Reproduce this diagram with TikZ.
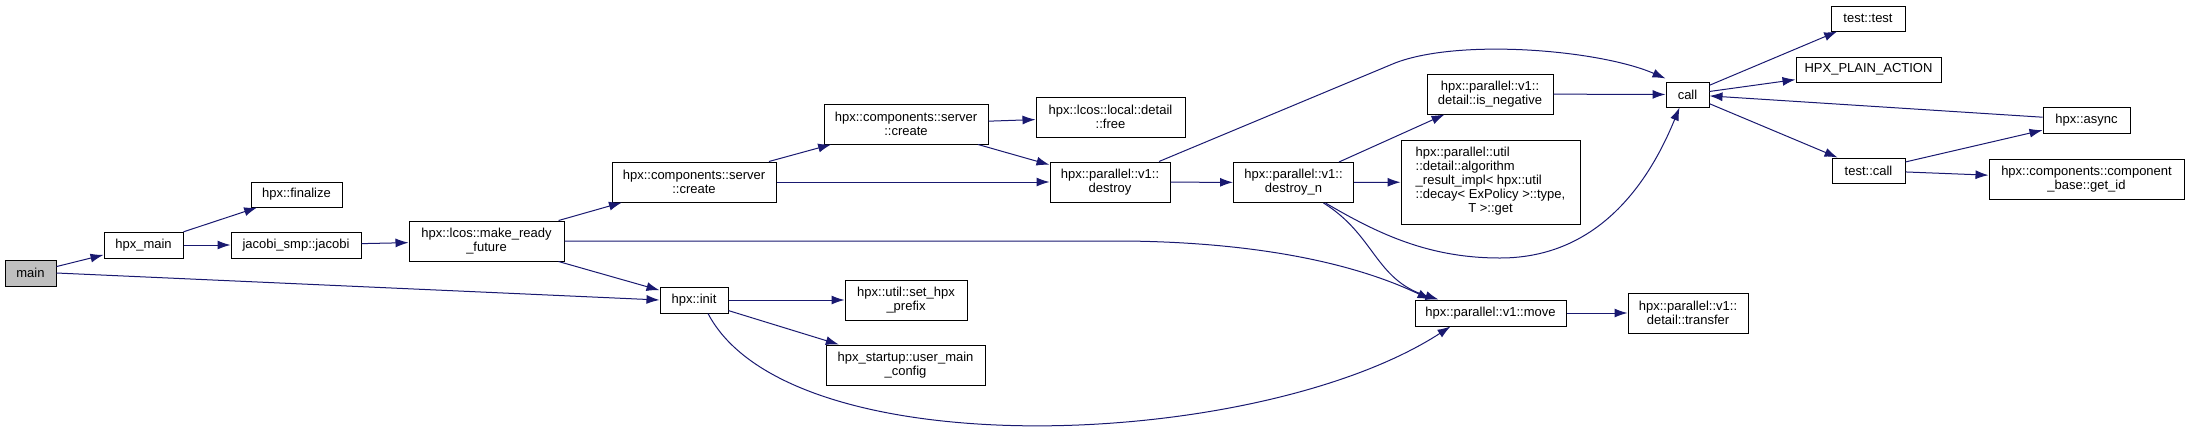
\documentclass[tikz,border=0pt]{standalone}
\usepackage{fontspec}
\setmainfont{Liberation Sans}
\usetikzlibrary{arrows.meta}
\definecolor{edgeblue}{HTML}{191970}
\definecolor{maingray}{HTML}{BFBFBF}
\tikzset{box/.style = {draw=black, fill=white, line width=1pt, inner sep=0pt, align=center,
    font=\fontsize{13}{14}\selectfont},
  edge/.style = {draw=edgeblue, line width=1pt, -{Latex[length=13pt,width=9pt]}}}

\begin{document}
\begin{tikzpicture}[x=1pt, y=-1pt]
  \useasboundingbox (0,0) rectangle (2189,432);
  \node[box, fill=maingray, minimum width=51, minimum height=26] (main) at (30.5,273) {main};
  \node[box, minimum width=79, minimum height=26] (hpxmain) at (143.5,245) {hpx\_main};
  \node[box, minimum width=91, minimum height=25] (finalize) at (296.5,194.5) {hpx::finalize};
  \node[box, minimum width=130, minimum height=26] (jacobi) at (296,245) {jacobi\_smp::jacobi};
  \node[box, minimum width=155, minimum height=40] (mrf) at (486.5,241) {hpx::lcos::make\_ready\\\_future};
  \node[box, minimum width=68, minimum height=26] (init) at (694,300) {hpx::init};
  \node[box, minimum width=164, minimum height=40] (createa) at (694,182) {hpx::components::server\\::create};
  \node[box, minimum width=164, minimum height=40] (createb) at (906,124) {hpx::components::server\\::create};
  \node[box, minimum width=149, minimum height=40] (lfree) at (1110.5,117) {hpx::lcos::local::detail\\::free};
  \node[box, minimum width=120, minimum height=40] (destroy) at (1110,182) {hpx::parallel::v1::\\destroy};
  \node[box, minimum width=120, minimum height=40] (destroyn) at (1293.5,182.5) {hpx::parallel::v1::\\destroy\_n};
  \node[box, minimum width=126, minimum height=40] (isneg) at (1490,94) {hpx::parallel::v1::\\detail::is\_negative};
  \node[box, minimum width=179, minimum height=84] (algget) at (1490.5,182)
    {\begin{tabular}{@{}l@{}}hpx::parallel::util\\::detail::algorithm\\\_result\_impl< hpx::util\\::decay< ExPolicy >::type,\\\multicolumn{1}{@{}c@{}}{T >::get}\end{tabular}};
  \node[box, minimum width=43, minimum height=25] (call) at (1687.5,94.5) {call};
  \node[box, minimum width=122, minimum height=40] (prefix) at (906,300) {hpx::util::set\_hpx\\\_prefix};
  \node[box, minimum width=159, minimum height=40] (usermain) at (905.5,365) {hpx\_startup::user\_main\\\_config};
  \node[box, minimum width=151, minimum height=26] (move) at (1490.5,313) {hpx::parallel::v1::move};
  \node[box, minimum width=120, minimum height=40] (transfer) at (1688,313) {hpx::parallel::v1::\\detail::transfer};
  \node[box, minimum width=74, minimum height=25] (testtest) at (1868,18.5) {test::test};
  \node[box, minimum width=145, minimum height=25] (plainaction) at (1868.5,69.5) {HPX\_PLAIN\_ACTION};
  \node[box, minimum width=87, minimum height=26] (async) at (2086.5,120) {hpx::async};
  \node[box, minimum width=73, minimum height=25] (testcall) at (1868.5,170.5) {test::call};
  \node[box, minimum width=195, minimum height=40] (getid) at (2086.5,179) {hpx::components::component\\\_base::get\_id};

  \draw[edge] (main) -- (hpxmain);
  \draw[edge] (main.east) -- (init.west);
  \draw[edge] (hpxmain) -- (finalize);
  \draw[edge] (hpxmain) -- (jacobi);
  \draw[edge] (jacobi) -- (mrf);
  \draw[edge] (mrf) -- (createa);
  \draw[edge] (mrf) -- (init);
  \draw[edge] (mrf.east) -- (1126,241) .. controls (1300,243) and (1385,278) .. ([xshift=-60]move.north);
  \draw[edge] (init) -- (prefix);
  \draw[edge] (init) -- (usermain);
  \draw[edge] ([xshift=14]init.south) .. controls (790,470) and (1260,450) .. ([xshift=-40]move.south);
  \draw[edge] (createa) -- (createb);
  \draw[edge] (createa) -- (destroy);
  \draw[edge] (createb) -- (lfree);
  \draw[edge] (createb) -- (destroy);
  \draw[edge] (destroy) -- (destroyn);
  \draw[edge] ([xshift=49]destroy.north) -- (1395,63) .. controls (1460,38) and (1600,50) .. ([yshift=3]call.north west);
  \draw[edge] (destroyn) -- (isneg);
  \draw[edge] (destroyn) -- (algget);
  \draw[edge] ([xshift=32]destroyn.south) .. controls (1380,235) and (1430,258) .. (1500,258)
    .. controls (1600,258) and (1650,180) .. ([xshift=-8]call.south);
  \draw[edge] ([xshift=30]destroyn.south) .. controls (1375,235) and (1375,280) .. ([xshift=-52]move.north);
  \draw[edge] (isneg) -- (call);
  \draw[edge] (move) -- (transfer);
  \draw[edge] (call) -- (testtest);
  \draw[edge] (call) -- (plainaction);
  \draw[edge] (async) -- (call);
  \draw[edge] (call) -- (testcall);
  \draw[edge] (testcall) -- (async);
  \draw[edge] (testcall) -- (getid);
\end{tikzpicture}
\end{document}
